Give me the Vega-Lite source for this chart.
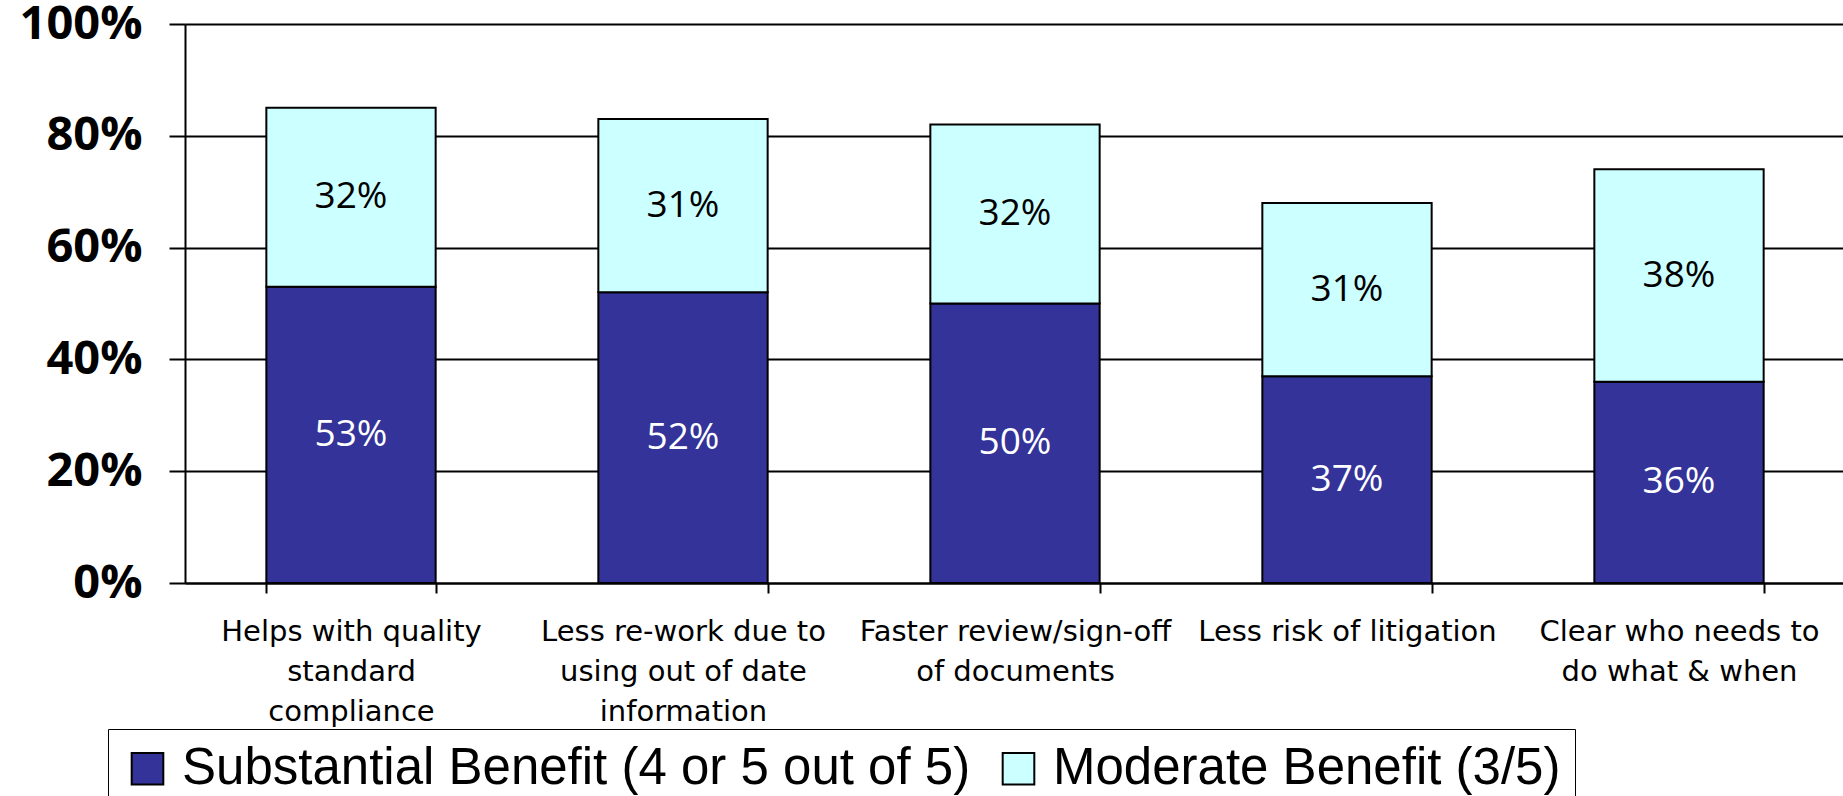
{
  "$schema": "https://vega.github.io/schema/vega-lite/v6.json",
  "width": 1660,
  "height": 559,
  "autosize": {"type": "none"},
  "padding": {"left": 185, "top": 24, "right": 0, "bottom": 213},
  "background": "white",
  "config": {"view": {"stroke": null}},
  "data": {
    "values": [
      {"category": "Helps with quality\nstandard\ncompliance", "series": "Substantial Benefit (4 or 5 out of 5)", "order": 1, "value": 0.53},
      {"category": "Helps with quality\nstandard\ncompliance", "series": "Moderate Benefit (3/5)", "order": 2, "value": 0.32},
      {"category": "Less re-work due to\nusing out of date\ninformation", "series": "Substantial Benefit (4 or 5 out of 5)", "order": 1, "value": 0.52},
      {"category": "Less re-work due to\nusing out of date\ninformation", "series": "Moderate Benefit (3/5)", "order": 2, "value": 0.31},
      {"category": "Faster review/sign-off\nof documents", "series": "Substantial Benefit (4 or 5 out of 5)", "order": 1, "value": 0.50},
      {"category": "Faster review/sign-off\nof documents", "series": "Moderate Benefit (3/5)", "order": 2, "value": 0.32},
      {"category": "Less risk of litigation", "series": "Substantial Benefit (4 or 5 out of 5)", "order": 1, "value": 0.37},
      {"category": "Less risk of litigation", "series": "Moderate Benefit (3/5)", "order": 2, "value": 0.31},
      {"category": "Clear who needs to\ndo what & when", "series": "Substantial Benefit (4 or 5 out of 5)", "order": 1, "value": 0.36},
      {"category": "Clear who needs to\ndo what & when", "series": "Moderate Benefit (3/5)", "order": 2, "value": 0.38}
    ]
  },
  "encoding": {
    "x": {
      "field": "category",
      "type": "nominal",
      "sort": null,
      "scale": {"paddingInner": 0.49, "paddingOuter": 0.245},
      "axis": {
        "title": null,
        "labelAngle": 0,
        "labelExpr": "split(datum.label, '\\n')",
        "labelFont": "DejaVu Sans",
        "labelFontSize": 29,
        "labelLineHeight": 40,
        "labelColor": "black",
        "labelPadding": 24,
        "labelLimit": 0,
        "tickBand": "extent",
        "tickSize": 10,
        "tickWidth": 2,
        "tickColor": "black",
        "domainColor": "black",
        "domainWidth": 2,
        "grid": false
      }
    }
  },
  "layer": [
    {
      "mark": {"type": "bar", "stroke": "black", "strokeWidth": 2},
      "encoding": {
        "y": {
          "field": "value",
          "type": "quantitative",
          "stack": "zero",
          "scale": {"domain": [0, 1], "nice": false},
          "axis": {
            "title": null,
            "values": [0, 0.2, 0.4, 0.6, 0.8, 1],
            "format": ".0%",
            "labelFont": "Open Sans",
            "labelFontWeight": "bold",
            "labelFontSize": 47,
            "labelColor": "black",
            "labelPadding": 27,
            "tickSize": 16,
            "tickWidth": 2,
            "tickColor": "black",
            "domainColor": "black",
            "domainWidth": 2,
            "grid": true,
            "gridColor": "black",
            "gridWidth": 2,
            "gridOpacity": 1
          }
        },
        "color": {
          "field": "series",
          "type": "nominal",
          "scale": {
            "domain": ["Substantial Benefit (4 or 5 out of 5)", "Moderate Benefit (3/5)"],
            "range": ["#333399", "#CCFFFF"]
          },
          "legend": {
            "title": null,
            "orient": "none",
            "legendX": -77,
            "legendY": 705,
            "direction": "horizontal",
            "strokeColor": "black",
            "fillColor": "white",
            "padding": 14,
            "symbolType": "square",
            "symbolSize": 1000,
            "symbolStrokeColor": "black",
            "symbolStrokeWidth": 2,
            "symbolOpacity": 1,
            "labelFont": "Liberation Sans",
            "labelFontSize": 51,
            "labelColor": "black",
            "labelLimit": 0,
            "labelOffset": 9,
            "columnPadding": 22
          }
        },
        "order": {"field": "order", "type": "quantitative"}
      }
    },
    {
      "mark": {"type": "text", "font": "Open Sans", "fontSize": 37, "fontWeight": 500, "baseline": "middle", "align": "center"},
      "encoding": {
        "y": {"field": "value", "type": "quantitative", "stack": "zero", "bandPosition": 0.5},
        "detail": {"field": "series", "type": "nominal"},
        "order": {"field": "order", "type": "quantitative"},
        "text": {"field": "value", "type": "quantitative", "format": ".0%"},
        "color": {
          "condition": {"test": "datum.order == 1", "value": "white"},
          "value": "black"
        }
      }
    }
  ]
}
